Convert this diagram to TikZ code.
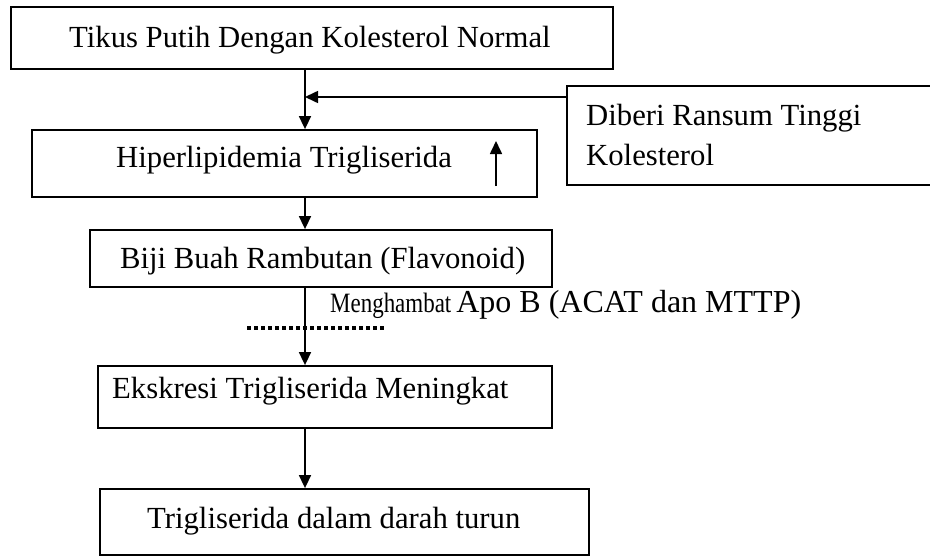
\documentclass[tikz,border=0pt]{standalone}
\usepackage{fontspec}
\usepackage{graphicx}
\setmainfont{Liberation Serif}
\usetikzlibrary{arrows.meta}
\begin{document}
\begin{tikzpicture}[x=1pt,y=-1pt,
  box/.style={draw, line width=1.8pt, inner sep=0pt, rectangle},
  lbl/.style={anchor=base west, inner sep=0pt, font=\fontsize{30.7}{40}\selectfont},
  conn/.style={line width=1.6pt, -{Triangle[length=13pt,width=12pt]}},
  dotline/.style={line width=3.5pt, dash pattern=on 4pt off 3pt}
]
\useasboundingbox (0,0) rectangle (930,557);
\clip (0,0) rectangle (930,557);
\fill[white] (0,0) rectangle (930,557);

% boxes
\node[box, minimum width=602pt, minimum height=62pt] (b1) at (312,38) {};
\node[box, minimum width=505pt, minimum height=67pt] (b2) at (284.5,163.5) {};
\node[box, minimum width=462pt, minimum height=57pt] (b3) at (321,258.5) {};
\node[box, minimum width=454pt, minimum height=62pt] (b4) at (325,397) {};
\node[box, minimum width=489pt, minimum height=66pt] (b5) at (344.5,522) {};
\node[box, minimum width=380pt, minimum height=99pt, anchor=north west] (b6) at (566,85) {};

% texts
\node[lbl] (t1) at (69,47) {Tikus Putih Dengan Kolesterol Normal};
\node[lbl] (t2) at (116,167) {Hiperlipidemia Trigliserida};
\node[lbl] (t3) at (120,268) {Biji Buah Rambutan (Flavonoid)};
\node[lbl] (t4) at (112,398) {Ekskresi Trigliserida Meningkat};
\node[lbl] (t5) at (147,528) {Trigliserida dalam darah turun};
\node[lbl] (t6) at (586,125) {Diberi Ransum Tinggi};
\node[lbl] (t7) at (586,165) {Kolesterol};
\node[anchor=base west, inner sep=0pt] (t8) at (330,312)
  {{\fontsize{28}{30}\selectfont\scalebox{0.82}[1]{Menghambat}}\hspace{5pt}{\fontsize{32}{40}\selectfont Apo B (ACAT dan MTTP)}};

% connectors
\coordinate (j1) at (b6.west |- 0,97);
\coordinate (v1) at (305,97);
\draw[conn] (b1.south -| v1) -- (b2.north -| v1);
\draw[conn] (j1) -- (v1);
\draw[conn] (b2.south -| v1) -- (b3.north -| v1);
\draw[conn] (b3.south -| v1) -- (b4.north -| v1);
\draw[conn] (b4.south -| v1) -- (b5.north -| v1);

% up arrow inside box 2
\coordinate (u1) at (496,186);
\coordinate (u2) at (496,141);
\draw[conn] (u1) -- (u2);

% dotted bar
\coordinate (d1) at (247,328);
\coordinate (d2) at (386,328);
\draw[dotline] (d1) -- (d2);
\end{tikzpicture}
\end{document}
